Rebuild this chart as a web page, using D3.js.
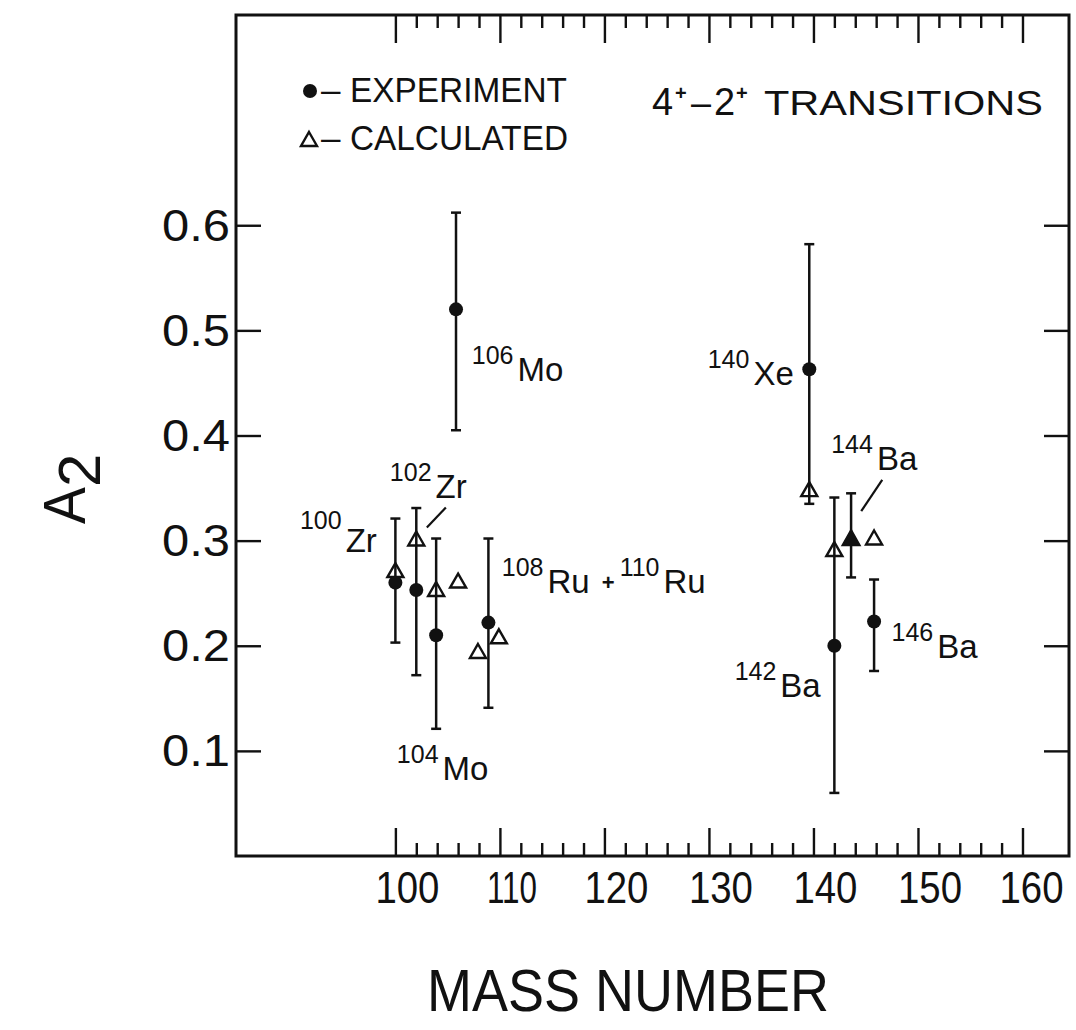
<!DOCTYPE html>
<html><head><meta charset="utf-8">
<script src="https://cdn.jsdelivr.net/npm/d3@7"></script>
<style>
body{margin:0;background:#fff}
svg{display:block}
text{font-family:"Liberation Sans",Arial,sans-serif;fill:#111}
</style>
</head><body>
<svg id="chart" width="1076" height="1030"></svg>
<script>
// ---------------- DATA ----------------
const expIsotopes = ["100Zr","102Zr","104Mo","106Mo","108Ru+110Ru","140Xe","142Ba","144Ba","146Ba"];
const expMass   = [100.0, 102.0, 103.9, 105.8, 108.9, 139.6, 142.0, 143.6, 145.8];
const expA2     = [0.260, 0.253, 0.210, 0.520, 0.222, 0.463, 0.200, 0.303, 0.223];
const expLow    = [0.203, 0.172, 0.121, 0.405, 0.141, 0.335, 0.060, 0.265, 0.176];
const expHigh   = [0.321, 0.331, 0.302, 0.612, 0.302, 0.582, 0.341, 0.345, 0.263];
const expMarker = ["circle","circle","circle","circle","circle","circle","circle","triangle","circle"];

const calcMass = [100.0, 102.0, 103.9, 106.0, 107.9, 109.9, 139.6, 142.0, 145.8];
const calcA2   = [0.272, 0.302, 0.254, 0.262, 0.195, 0.209, 0.349, 0.292, 0.303];

const xTickLabels = [100, 110, 120, 130, 140, 150, 160];
const yTickLabels = [0.1, 0.2, 0.3, 0.4, 0.5, 0.6];

// isotope labels: mass-number superscript + element symbol, anchored in data units
const labelSup  = ["106","140","144","146","142","100","102","104","108","110"];
const labelEl   = ["Mo","Xe","Ba","Ba","Ba","Zr","Zr","Mo","Ru","Ru"];
const labelMass = [107.31, 129.88, 141.70, 147.47, 132.46, 90.87, 99.47, 100.14, 110.18, 121.46];
const labelA2   = [0.4684, 0.4646, 0.3837, 0.2041, 0.1670, 0.3115, 0.3571, 0.0881, 0.2668, 0.2668];

// leader lines (data units) for 102Zr and 144Ba
const leaderFrom = [[103.01, 0.3125], [144.57, 0.328]];
const leaderTo   = [[104.83, 0.3315], [146.58, 0.3578]];

// ---------------- LAYOUT ----------------
const svg = d3.select("#chart");
const L = 236, R = 1069, T = 15, B = 856;
const x = d3.scaleLinear().domain([84.75, 164.45]).range([L, R]);
const y = d3.scaleLinear().domain([0, 0.8]).range([B, T]);

const ink = "#111";

// frame
svg.append("rect").attr("x", L).attr("y", T).attr("width", R - L).attr("height", B - T)
  .attr("fill", "none").attr("stroke", ink).attr("stroke-width", 3);

const minor = d3.range(100, 161, 2).filter(v => v % 10 !== 0);

function tickAxis(axis, tr) {
  const g = svg.append("g").attr("transform", tr).call(axis);
  g.select(".domain").remove();
  g.selectAll(".tick line").attr("stroke", ink).attr("stroke-width", 2.4);
  g.selectAll(".tick text").remove();
  return g;
}
// bottom / top ticks pointing inward
tickAxis(d3.axisBottom(x).tickValues(xTickLabels).tickSize(-28), `translate(0,${B})`);
tickAxis(d3.axisBottom(x).tickValues(minor).tickSize(-13), `translate(0,${B})`);
tickAxis(d3.axisTop(x).tickValues(xTickLabels).tickSize(-28), `translate(0,${T})`);
tickAxis(d3.axisTop(x).tickValues(minor).tickSize(-13), `translate(0,${T})`);
// left / right ticks pointing inward
tickAxis(d3.axisLeft(y).tickValues(yTickLabels).tickSize(-25), `translate(${L},0)`);
tickAxis(d3.axisRight(y).tickValues(yTickLabels).tickSize(-25), `translate(${R},0)`);

// x tick labels
svg.append("g").selectAll("text").data(xTickLabels).join("text")
  .attr("x", d => x(d) + (d === 160 ? 9 : 12)).attr("y", 903)
  .attr("text-anchor", "middle").attr("font-size", 44)
  .attr("textLength", d => d === 110 ? 50 : 64).attr("lengthAdjust", "spacingAndGlyphs")
  .text(d => d);

// y tick labels
svg.append("g").selectAll("text").data(yTickLabels).join("text")
  .attr("x", 230).attr("y", d => y(d) + 15.5)
  .attr("text-anchor", "end").attr("font-size", 44)
  .attr("textLength", 68).attr("lengthAdjust", "spacingAndGlyphs")
  .text(d => d.toFixed(1));

// axis titles
svg.append("text").attr("x", 628).attr("y", 1011).attr("text-anchor", "middle")
  .attr("font-size", 60).attr("textLength", 402).attr("lengthAdjust", "spacingAndGlyphs")
  .text("MASS NUMBER");
const yl = svg.append("text").attr("transform", "translate(85,524) rotate(-90)")
  .attr("font-size", 60);
yl.append("tspan").attr("textLength", 37).attr("lengthAdjust", "spacingAndGlyphs").text("A");
yl.append("tspan").attr("dy", 15).text("2");

// ---------------- MARKS ----------------
const exp = expMass.map((m, i) => ({m, v: expA2[i], lo: expLow[i], hi: expHigh[i], mk: expMarker[i], name: expIsotopes[i]}));
const calc = calcMass.map((m, i) => ({m, v: calcA2[i]}));

function triPath(w, h) {
  return `M0,${-h/2}L${w/2},${h/2}L${-w/2},${h/2}Z`;
}

// calculated (open triangles)
svg.append("g").selectAll("path").data(calc).join("path")
  .attr("transform", d => `translate(${x(d.m)},${y(d.v)})`)
  .attr("d", triPath(16, 14))
  .attr("fill", "#fff").attr("stroke", ink).attr("stroke-width", 2.4).attr("stroke-linejoin", "miter");

// error bars
const eb = svg.append("g").attr("stroke", ink).attr("stroke-width", 2.5);
eb.selectAll("line.v").data(exp).join("line").attr("class", "v")
  .attr("x1", d => x(d.m)).attr("x2", d => x(d.m))
  .attr("y1", d => y(d.lo)).attr("y2", d => y(d.hi));
eb.selectAll("line.hi").data(exp).join("line").attr("class", "hi")
  .attr("x1", d => x(d.m) - 5).attr("x2", d => x(d.m) + 5)
  .attr("y1", d => y(d.hi)).attr("y2", d => y(d.hi));
eb.selectAll("line.lo").data(exp).join("line").attr("class", "lo")
  .attr("x1", d => x(d.m) - 5).attr("x2", d => x(d.m) + 5)
  .attr("y1", d => y(d.lo)).attr("y2", d => y(d.lo));

// experiment markers
svg.append("g").selectAll("circle").data(exp.filter(d => d.mk === "circle")).join("circle")
  .attr("cx", d => x(d.m)).attr("cy", d => y(d.v)).attr("r", 7).attr("fill", ink);
svg.append("g").selectAll("path").data(exp.filter(d => d.mk === "triangle")).join("path")
  .attr("transform", d => `translate(${x(d.m)},${y(d.v)})`)
  .attr("d", triPath(18, 16)).attr("fill", ink).attr("stroke", ink).attr("stroke-width", 1.5);

// leader lines
svg.append("g").selectAll("line").data(leaderFrom).join("line")
  .attr("x1", d => x(d[0])).attr("y1", d => y(d[1]))
  .attr("x2", (d, i) => x(leaderTo[i][0])).attr("y2", (d, i) => y(leaderTo[i][1]))
  .attr("stroke", ink).attr("stroke-width", 2.2);

// isotope labels
const lab = svg.append("g").selectAll("text").data(labelSup).join("text")
  .attr("x", (d, i) => x(labelMass[i])).attr("y", (d, i) => y(labelA2[i]));
lab.append("tspan").attr("font-size", 25).text(d => d);
lab.append("tspan").attr("font-size", 33).attr("dx", 4)
  .attr("dy", (d, i) => labelSup[i] === "100" ? 23 : 17)
  .text((d, i) => labelEl[i]);
// "+" between the two Ru isotopes
svg.append("text").attr("x", x(119.74)).attr("y", y(0.2526)).attr("font-size", 22).attr("font-weight", "bold").text("+");

// ---------------- LEGEND ----------------
const lg = svg.append("g");
lg.append("circle").attr("cx", 310).attr("cy", 91).attr("r", 7).attr("fill", ink);
lg.append("text").attr("x", 321).attr("y", 102).attr("font-size", 35).text("–");
lg.append("text").attr("x", 350).attr("y", 102).attr("font-size", 35)
  .attr("textLength", 217).attr("lengthAdjust", "spacingAndGlyphs").text("EXPERIMENT");
lg.append("path").attr("transform", "translate(309,139)").attr("d", triPath(16, 14))
  .attr("fill", "#fff").attr("stroke", ink).attr("stroke-width", 2.4);
lg.append("text").attr("x", 321).attr("y", 150).attr("font-size", 35).text("–");
lg.append("text").attr("x", 350).attr("y", 150).attr("font-size", 35)
  .attr("textLength", 218).attr("lengthAdjust", "spacingAndGlyphs").text("CALCULATED");

// title: 4+ - 2+ TRANSITIONS
const tt = svg.append("g");
tt.append("text").attr("x", 652).attr("y", 115).attr("font-size", 38).text("4");
tt.append("text").attr("x", 675).attr("y", 100).attr("font-size", 20).attr("font-weight", "bold").text("+");
tt.append("text").attr("x", 691).attr("y", 115).attr("font-size", 36).text("–");
tt.append("text").attr("x", 714).attr("y", 115).attr("font-size", 38).text("2");
tt.append("text").attr("x", 736).attr("y", 100).attr("font-size", 20).attr("font-weight", "bold").text("+");
tt.append("text").attr("x", 764).attr("y", 115).attr("font-size", 35)
  .attr("textLength", 279).attr("lengthAdjust", "spacingAndGlyphs").text("TRANSITIONS");
</script>
</body></html>
